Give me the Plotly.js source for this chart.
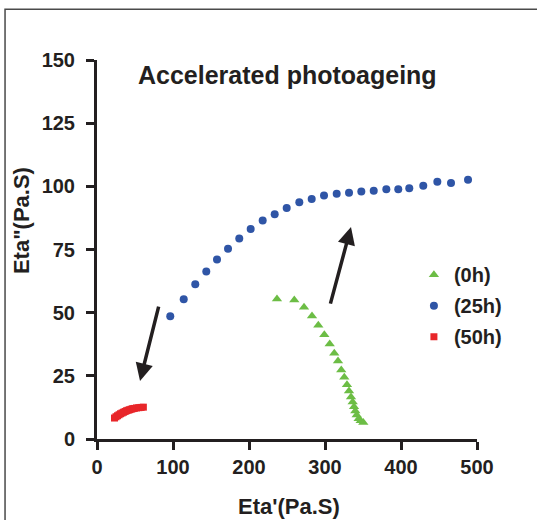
<!DOCTYPE html>
<html>
<head>
<meta charset="utf-8">
<script src="https://cdn.plot.ly/plotly-3.0.1.min.js"></script>
<style>
  html, body { margin: 0; padding: 0; background: #ffffff; }
  #chart { width: 537px; height: 520px; }
</style>
</head>
<body>
<div id="chart"></div>
<script>
// ---- data ----
const seriesNames = ["(0h)", "(25h)", "(50h)"];

const eta1_0h = [236.8, 259.6, 272.4, 282.9, 291.2, 299.1, 306.2, 312.2, 317.1, 321.4, 325.4,
                 328.9, 331.6, 334.2, 336.4, 338.2, 339.9, 341.7, 344.3, 347.0, 350.4];
const eta2_0h = [55.4, 55.0, 52.1, 48.7, 45.0, 41.3, 37.6, 33.9, 30.9, 27.3, 24.4,
                 21.5, 19.0, 16.6, 14.6, 12.8, 11.1, 9.5, 8.0, 7.2, 6.5];

const eta1_25h = [96.4, 114.1, 129.3, 143.8, 157.9, 172.4, 187.2, 202.2, 218.0, 233.8, 249.6,
                  266.2, 282.5, 298.7, 315.4, 331.6, 347.8, 364.1, 380.7, 396.4, 410.9,
                  429.3, 447.8, 465.8, 488.2];
const eta2_25h = [48.6, 55.3, 61.2, 66.3, 71.0, 75.3, 79.4, 83.1, 86.5, 89.0, 91.4,
                  93.7, 95.0, 96.4, 97.1, 97.5, 98.0, 98.3, 98.8, 98.8, 99.2,
                  100.2, 101.8, 101.3, 102.6];

const eta1_50h = [23, 25, 27, 29, 31, 33, 35, 37, 39, 41, 43, 45, 47, 49, 52, 55, 58, 61];
const eta2_50h = [8.3, 8.8, 9.2, 9.6, 10.0, 10.3, 10.6, 10.9, 11.2, 11.4, 11.6, 11.8, 12.0, 12.1, 12.3, 12.4, 12.5, 12.6];

const xTicks = [0, 100, 200, 300, 400, 500];
const yTicks = [0, 25, 50, 75, 100, 125, 150];

const titleText = "Accelerated photoageing";
const xTitle = "Eta'(Pa.S)";
const yTitle = 'Eta"(Pa.S)';

// ---- styles ----
const FONT = "Liberation Sans, Arial, Helvetica, sans-serif";
const INK = "#231f20";

const traces = [
  { x: eta1_0h, y: eta2_0h, name: seriesNames[0], type: "scatter", mode: "markers",
    legendgroup: "a", cliponaxis: false,
    marker: { symbol: "triangle-up", size: 9, color: "#6cbd45" } },
  { x: eta1_25h, y: eta2_25h, name: seriesNames[1], type: "scatter", mode: "markers",
    legendgroup: "b", cliponaxis: false,
    marker: { symbol: "circle", size: 8, color: "#2f55a6" } },
  { x: eta1_50h, y: eta2_50h, name: seriesNames[2], type: "scatter", mode: "markers",
    legendgroup: "c", cliponaxis: false,
    marker: { symbol: "square", size: 7, color: "#e8262a" } }
];

const axisCommon = {
  showline: true, linewidth: 3, linecolor: INK,
  ticks: "outside", ticklen: 8, tickwidth: 3, tickcolor: INK,
  showgrid: false, zeroline: false, fixedrange: true,
  tickfont: { family: FONT, size: 20, color: INK, weight: "bold" }
};

const layout = {
  width: 537, height: 520,
  margin: { l: 97, r: 60, t: 60, b: 81, pad: 0 },
  paper_bgcolor: "#ffffff", plot_bgcolor: "#ffffff",
  title: { text: titleText, x: 0.535, xanchor: "center", y: 0.856, yanchor: "middle",
           font: { family: FONT, size: 25, color: INK, weight: "bold" } },
  xaxis: Object.assign({}, axisCommon, { range: [0, 500], tickvals: xTicks, ticktext: xTicks.map(String) }),
  yaxis: Object.assign({}, axisCommon, { range: [0, 150], tickvals: yTicks, ticktext: yTicks.map(String),
                                          ticklabelstandoff: 7 }),
  showlegend: true,
  legend: { x: 0.834, y: 0.485, xanchor: "left", yanchor: "top",
            traceorder: "grouped", tracegroupgap: 2, bgcolor: "rgba(0,0,0,0)",
            font: { family: FONT, size: 20, color: INK, weight: "bold" } },
  annotations: [
    { xref: "paper", yref: "paper", x: -0.2, y: 0.575, text: yTitle, showarrow: false,
      textangle: -90, xanchor: "center", yanchor: "middle",
      font: { family: FONT, size: 22, color: INK, weight: "bold" } },
    { xref: "paper", yref: "paper", x: 0.505, y: -0.177, text: xTitle, showarrow: false,
      xanchor: "center", yanchor: "middle",
      font: { family: FONT, size: 22, color: INK, weight: "bold" } },
    { xref: "x", yref: "y", x: 56.6, y: 23, axref: "x", ayref: "y", ax: 81.6, ay: 53,
      text: "", showarrow: true, arrowhead: 2, arrowsize: 1, arrowwidth: 3.5, arrowcolor: INK },
    { xref: "x", yref: "y", x: 334.2, y: 83.9, axref: "x", ayref: "y", ax: 306.6, ay: 53,
      text: "", showarrow: true, arrowhead: 2, arrowsize: 1, arrowwidth: 3.5, arrowcolor: INK }
  ],
  shapes: [
    { type: "rect", xref: "paper", yref: "paper", x0: -0.242, x1: 1.2, y0: -0.25, y1: 1.134,
      line: { color: "#4a4a4a", width: 1.5 }, fillcolor: "rgba(0,0,0,0)" }
  ]
};

Plotly.newPlot("chart", traces, layout, { displayModeBar: false, staticPlot: true });
</script>
</body>
</html>
